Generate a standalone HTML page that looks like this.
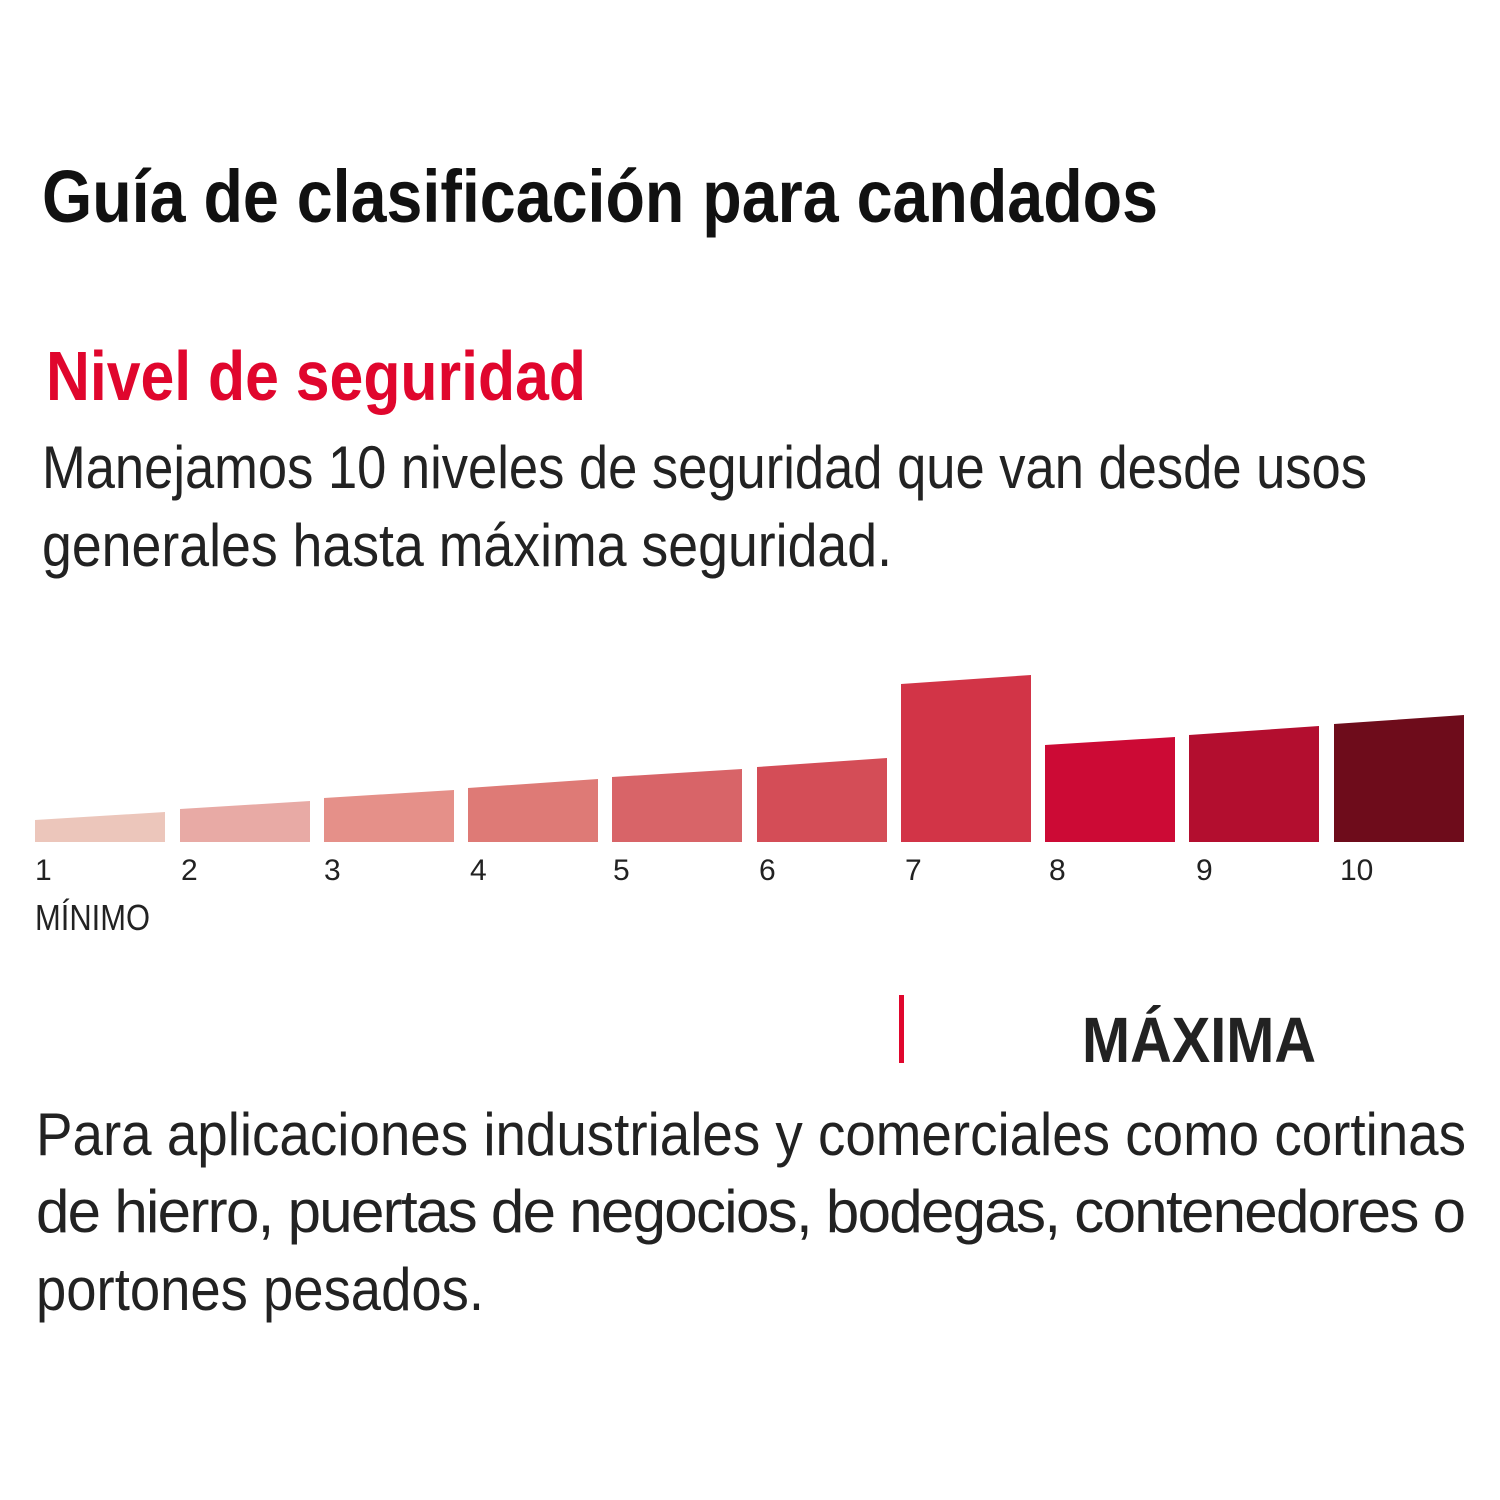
<!DOCTYPE html>
<html><head><meta charset="utf-8"><style>html,body{margin:0;padding:0;background:#fff}svg{display:block}</style></head>
<body>
<svg width="1500" height="1500" viewBox="0 0 1500 1500" xmlns="http://www.w3.org/2000/svg" font-family="'Liberation Sans', sans-serif">
<rect width="1500" height="1500" fill="#fff"/>
<text x="42" y="222" font-size="74" font-weight="bold" fill="#111" textLength="1116" lengthAdjust="spacingAndGlyphs">Guía de clasificación para candados</text>
<text x="46" y="400" font-size="70" font-weight="bold" fill="#e0062d" textLength="540" lengthAdjust="spacingAndGlyphs">Nivel de seguridad</text>
<text x="42" y="488" font-size="60" fill="#222" textLength="1325" lengthAdjust="spacingAndGlyphs">Manejamos 10 niveles de seguridad que van desde usos</text>
<text x="42" y="566" font-size="60" fill="#222" textLength="850" lengthAdjust="spacingAndGlyphs">generales hasta máxima seguridad.</text>
<polygon points="35,842 35,820 165,812 165,842" fill="#ecc6bb"/>
<polygon points="180,842 180,809 310,801 310,842" fill="#e8aaa5"/>
<polygon points="324,842 324,798 454,790 454,842" fill="#e59089"/>
<polygon points="468,842 468,788 598,779 598,842" fill="#de7a76"/>
<polygon points="612,842 612,777 742,769 742,842" fill="#d86468"/>
<polygon points="757,842 757,767 887,758 887,842" fill="#d44d57"/>
<polygon points="901,842 901,684 1031,675 1031,842" fill="#d23447"/>
<polygon points="1045,842 1045,745 1175,737 1175,842" fill="#cc0a35"/>
<polygon points="1189,842 1189,735 1319,726 1319,842" fill="#b30e2f"/>
<polygon points="1334,842 1334,724 1464,715 1464,842" fill="#6e0c1b"/>
<g font-size="30" fill="#222">
<text x="35" y="880">1</text><text x="181" y="880">2</text><text x="324" y="880">3</text><text x="470" y="880">4</text><text x="613" y="880">5</text><text x="759" y="880">6</text><text x="905" y="880">7</text><text x="1049" y="880">8</text><text x="1196" y="880">9</text><text x="1340" y="880">10</text>
</g>
<text x="35" y="930" font-size="36" fill="#222" textLength="115" lengthAdjust="spacingAndGlyphs">MÍNIMO</text>
<rect x="899" y="995" width="5" height="68" fill="#e0062d"/>
<text x="1082" y="1062" font-size="64" font-weight="bold" fill="#222" textLength="234" lengthAdjust="spacingAndGlyphs">MÁXIMA</text>
<g font-size="60" fill="#222">
<text x="36" y="1155" textLength="1430" lengthAdjust="spacingAndGlyphs">Para aplicaciones industriales y comerciales como cortinas</text>
<text x="36" y="1232" textLength="1430" lengthAdjust="spacing">de hierro, puertas de negocios, bodegas, contenedores o</text>
<text x="36" y="1310" textLength="448" lengthAdjust="spacingAndGlyphs">portones pesados.</text>
</g>
</svg>
</body></html>
